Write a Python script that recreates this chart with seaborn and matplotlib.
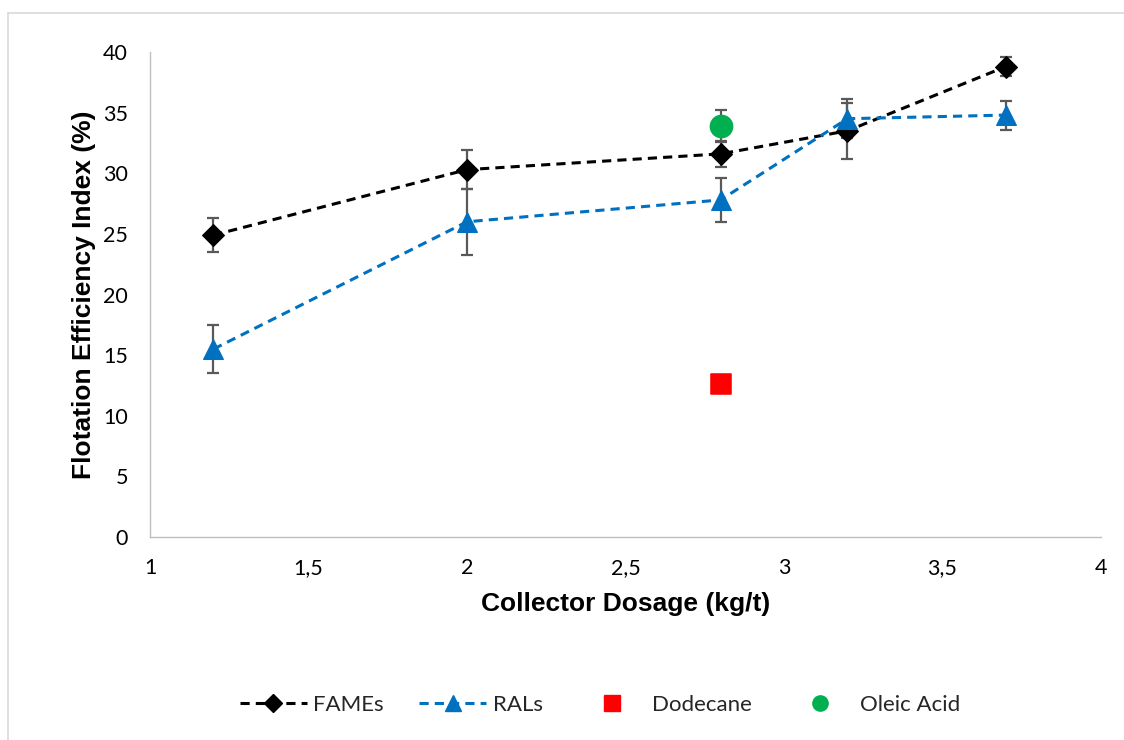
import matplotlib
matplotlib.use("Agg")
import matplotlib.pyplot as plt
import seaborn as sns
import pandas as pd
from matplotlib.lines import Line2D
from matplotlib.ticker import FuncFormatter

# ---- data ----
fames_x = [1.2, 2.0, 2.8, 3.2, 3.7]
fames_y = [24.9, 30.3, 31.6, 33.5, 38.8]
fames_err = [1.4, 1.6, 1.1, 2.3, 0.8]

rals_x = [1.2, 2.0, 2.8, 3.2, 3.7]
rals_y = [15.5, 26.0, 27.8, 34.5, 34.8]
rals_err = [1.95, 2.7, 1.8, 1.6, 1.2]

dodecane_x = [2.8]
dodecane_y = [12.6]

oleic_x = [2.8]
oleic_y = [33.9]
oleic_err = [1.3]

x_ticks = [1, 1.5, 2, 2.5, 3, 3.5, 4]
y_ticks = [0, 5, 10, 15, 20, 25, 30, 35, 40]
legend_labels = ['FAMEs', 'RALs', 'Dodecane', 'Oleic Acid']

sns.set_theme(style="white")
plt.rcParams['font.family'] = ['Lato', 'DejaVu Sans']

fig = plt.figure(figsize=(11.24, 7.40), dpi=100)
ax = fig.add_axes([0.1335, 0.2743, 0.846, 0.6554])

ecol = '#595959'
for xs, ys, es in [(fames_x, fames_y, fames_err), (rals_x, rals_y, rals_err),
                   (oleic_x, oleic_y, oleic_err)]:
    ax.errorbar(xs, ys, yerr=es, fmt='none', ecolor=ecol,
                elinewidth=1.6, capsize=4.5, capthick=1.6, zorder=2)

df_f = pd.DataFrame({'x': fames_x, 'y': fames_y})
df_r = pd.DataFrame({'x': rals_x, 'y': rals_y})

sns.lineplot(data=df_f, x='x', y='y', ax=ax, color='black', linewidth=2.2,
             linestyle=(0, (3, 2)), marker='D', markersize=11,
             markeredgecolor='black', markerfacecolor='black', zorder=3)
sns.lineplot(data=df_r, x='x', y='y', ax=ax, color='#0070C0', linewidth=2.2,
             linestyle=(0, (3, 2)), marker='^', markersize=14,
             markeredgecolor='#0070C0', markerfacecolor='#0070C0', zorder=4)
sns.scatterplot(x=dodecane_x, y=dodecane_y, ax=ax, marker='s', s=200,
                color='#FF0000', edgecolor='#FF0000', zorder=5)
sns.scatterplot(x=oleic_x, y=oleic_y, ax=ax, marker='o', s=250,
                color='#00B050', edgecolor='#00B050', zorder=5)

ax.set_xlim(1, 4)
ax.set_ylim(0, 40)
ax.set_xticks(x_ticks)
ax.set_yticks(y_ticks)
ax.xaxis.set_major_formatter(FuncFormatter(lambda v, p: ('%g' % v).replace('.', ',')))
ax.tick_params(axis='both', length=0, labelsize=15.5, colors='black')
ax.tick_params(axis='x', pad=15)
ax.tick_params(axis='y', pad=16)

for s in ['top', 'right']:
    ax.spines[s].set_visible(False)
for s in ['left', 'bottom']:
    ax.spines[s].set_color('#bfbfbf')
    ax.spines[s].set_linewidth(1.0)

lab_font = {'family': ['Liberation Sans', 'DejaVu Sans'], 'size': 19, 'weight': 'bold',
            'color': 'black'}
ax.set_xlabel('Collector Dosage (kg/t)', fontdict=lab_font, labelpad=10)
ax.set_ylabel('Flotation Efficiency Index (%)', fontdict=lab_font, labelpad=5)
ax.grid(False)

handles = [
    Line2D([0], [0], color='black', linewidth=2.2, linestyle=(0, (3, 2)),
           marker='D', markersize=9, markerfacecolor='black'),
    Line2D([0], [0], color='#0070C0', linewidth=2.2, linestyle=(0, (3, 2)),
           marker='^', markersize=11, markerfacecolor='#0070C0'),
    Line2D([0], [0], color='#FF0000', linestyle='none', marker='s', markersize=11),
    Line2D([0], [0], color='#00B050', linestyle='none', marker='o', markersize=11),
]
fig.legend(handles, legend_labels, loc='center', bbox_to_anchor=(0.534, 0.047), ncol=4,
           frameon=False, handlelength=3.0, columnspacing=1.6, handletextpad=0.3,
           prop={'family': ['Lato', 'DejaVu Sans'], 'size': 16})

# chart-area border (left and top edges visible)
bcol = '#d9d9d9'
fig.add_artist(Line2D([8 / 1124, 8 / 1124], [0, 1 - 13 / 740], transform=fig.transFigure,
                      color=bcol, linewidth=1.2))
fig.add_artist(Line2D([8 / 1124, 1], [1 - 13 / 740, 1 - 13 / 740], transform=fig.transFigure,
                      color=bcol, linewidth=1.2))

fig.savefig('out.png', dpi=100, facecolor='white')
